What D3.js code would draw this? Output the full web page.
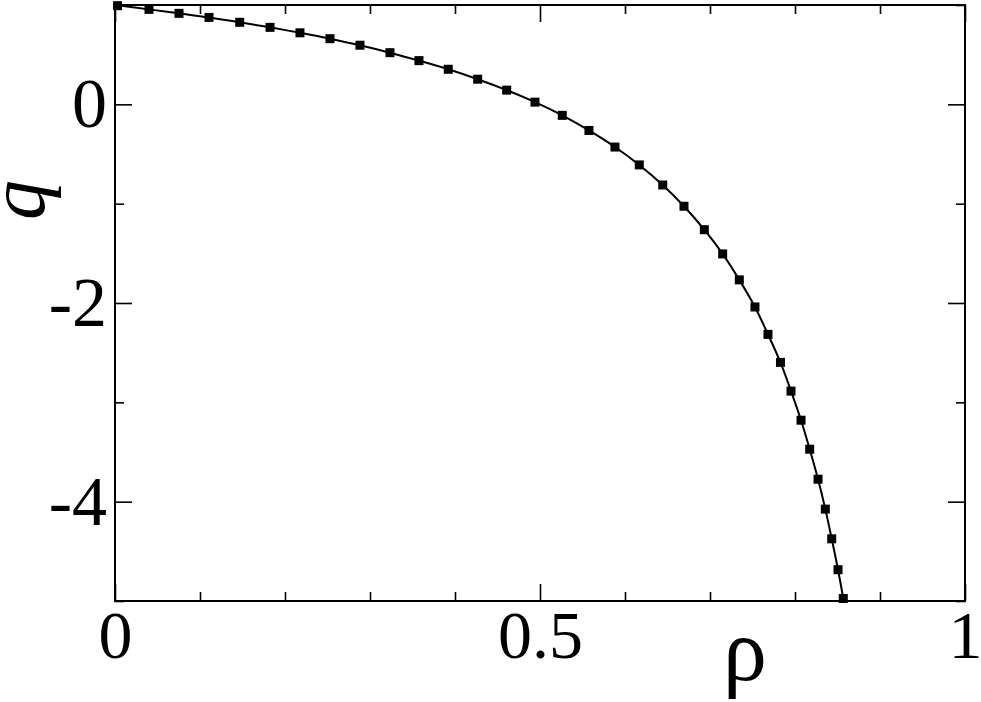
<!DOCTYPE html>
<html>
<head>
<meta charset="utf-8">
<script src="https://cdn.jsdelivr.net/npm/d3@7"></script>
<style>
  body { margin: 0; background: #fff; }
  text { font-family: "Liberation Serif", "Times New Roman", serif; fill: #000; }
</style>
</head>
<body>
<div id="chart"></div>
<script>
'use strict';

// symbols
const rhoPoints = [0.003, 0.040, 0.0753, 0.1106, 0.1467, 0.1824, 0.2176, 0.2529, 0.2882, 0.3235,
    0.3576, 0.3921, 0.4267, 0.4608, 0.4941, 0.5262, 0.5576, 0.5882, 0.6168, 0.6444,
    0.6694, 0.6933, 0.7149, 0.7345, 0.7529, 0.7682, 0.7829, 0.7953, 0.8071, 0.8173,
    0.8271, 0.8357, 0.8432, 0.8506, 0.8568];
const qPoints = [0.993, 0.956, 0.916, 0.875, 0.826, 0.775, 0.720, 0.661, 0.595, 0.520,
    0.440, 0.353, 0.253, 0.143, 0.022, -0.111, -0.263, -0.430, -0.610, -0.812,
    -1.026, -1.262, -1.506, -1.767, -2.040, -2.316, -2.598, -2.887, -3.180, -3.472,
    -3.774, -4.075, -4.374, -4.685, -4.975];

// solid line: same curve, running out to the edges of the frame
const rhoLine = [0].concat(rhoPoints.slice(1), [0.8600, 0.8625]);
const qLine = [1.0].concat(qPoints.slice(1), [-5.14, -5.3]);

const xMajor = [0, 0.5, 1];
const xMajorLabels = ['0', '0.5', '1'];
const xMinor = [0.1, 0.2, 0.3, 0.4, 0.6, 0.7, 0.8, 0.9];
const yMajor = [0, -2, -4];
const yMajorLabels = ['0', '-2', '-4'];
const yMinor = [1, -1, -3, -5];

const W = 981, H = 702;
const margin = {top: 5, right: 16, bottom: 101, left: 115};
const width = W - margin.left - margin.right;
const height = H - margin.top - margin.bottom;

const x = d3.scaleLinear().domain([0, 1]).range([0, width]);
const y = d3.scaleLinear().domain([-5, 1]).range([height, 0]);

const svg = d3.select('#chart').append('svg')
    .attr('width', W)
    .attr('height', H);

const g = svg.append('g')
    .attr('transform', 'translate(' + margin.left + ',' + margin.top + ')');

g.append('clipPath').attr('id', 'clip')
    .append('rect').attr('width', width).attr('height', height);

function styleAxis(sel, fontSize) {
    sel.select('.domain').remove();
    sel.selectAll('.tick line').attr('stroke', '#000').attr('stroke-width', 1.6);
    sel.selectAll('.tick text')
        .style('font-family', '"Liberation Serif", "Times New Roman", serif')
        .style('font-size', fontSize + 'px')
        .attr('fill', '#000');
}

// bottom: labels + major ticks, then minor ticks
g.append('g')
    .attr('transform', 'translate(0,' + height + ')')
    .call(d3.axisBottom(x).tickValues(xMajor).tickSize(-17).tickPadding(9)
        .tickFormat(function(d, i) { return xMajorLabels[i]; }))
    .call(styleAxis, 68);
g.append('g')
    .attr('transform', 'translate(0,' + height + ')')
    .call(d3.axisBottom(x).tickValues(xMinor).tickSize(-9).tickFormat(''))
    .call(styleAxis, 10);

// top
g.append('g')
    .call(d3.axisTop(x).tickValues(xMajor).tickSize(-17).tickFormat(''))
    .call(styleAxis, 10);
g.append('g')
    .call(d3.axisTop(x).tickValues(xMinor).tickSize(-9).tickFormat(''))
    .call(styleAxis, 10);

// left
g.append('g')
    .call(d3.axisLeft(y).tickValues(yMajor).tickSize(-17).tickPadding(8)
        .tickFormat(function(d, i) { return yMajorLabels[i]; }))
    .call(styleAxis, 70);
g.append('g')
    .call(d3.axisLeft(y).tickValues(yMinor).tickSize(-9).tickFormat(''))
    .call(styleAxis, 10);

// right
g.append('g')
    .attr('transform', 'translate(' + width + ',0)')
    .call(d3.axisRight(y).tickValues(yMajor).tickSize(-17).tickFormat(''))
    .call(styleAxis, 10);
g.append('g')
    .attr('transform', 'translate(' + width + ',0)')
    .call(d3.axisRight(y).tickValues(yMinor).tickSize(-9).tickFormat(''))
    .call(styleAxis, 10);

// frame
g.append('rect')
    .attr('width', width)
    .attr('height', height)
    .attr('fill', 'none')
    .attr('stroke', '#000')
    .attr('stroke-width', 2);

// curve
const lineData = rhoLine.map(function(r, i) { return {rho: r, q: qLine[i]}; });
const line = d3.line()
    .x(function(d) { return x(d.rho); })
    .y(function(d) { return y(d.q); })
    .curve(d3.curveCatmullRom);

g.append('path')
    .datum(lineData)
    .attr('clip-path', 'url(#clip)')
    .attr('fill', 'none')
    .attr('stroke', '#000')
    .attr('stroke-width', 2)
    .attr('d', line);

// square symbols
const pts = rhoPoints.map(function(r, i) { return {rho: r, q: qPoints[i]}; });
const sz = 9;
g.selectAll('rect.sym')
    .data(pts)
    .enter().append('rect')
    .attr('class', 'sym')
    .attr('x', function(d) { return x(d.rho) - sz / 2; })
    .attr('y', function(d) { return y(d.q) - sz / 2; })
    .attr('width', sz)
    .attr('height', sz)
    .attr('fill', '#000');

// axis titles
svg.append('text')
    .attr('x', 745)
    .attr('y', 680)
    .attr('text-anchor', 'middle')
    .style('font-size', '88px')
    .text('ρ');

svg.append('text')
    .attr('transform', 'translate(44,200) rotate(-90)')
    .attr('text-anchor', 'middle')
    .style('font-size', '80px')
    .style('font-style', 'italic')
    .text('q');
</script>
</body>
</html>
